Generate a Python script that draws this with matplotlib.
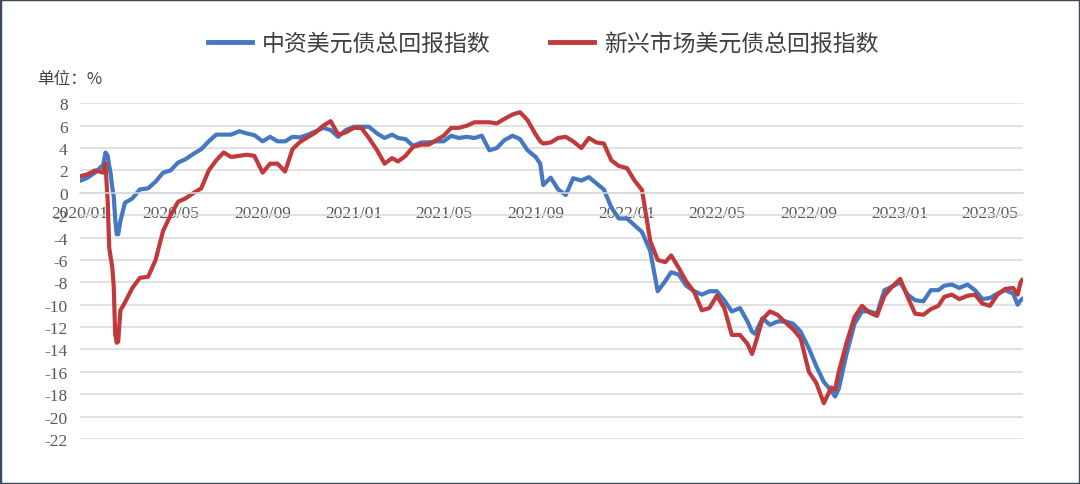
import matplotlib
matplotlib.use("Agg")
import matplotlib.pyplot as plt
import matplotlib.dates as mdates
import pandas as pd
from matplotlib.patches import Rectangle

plt.rcParams["axes.unicode_minus"] = False

CJK = ["Noto Sans CJK SC", "DejaVu Sans"]
SERIF = ["Liberation Serif", "DejaVu Serif"]

# sampled roughly every 10 days, extra points around the sharp moves
dates = [
    "2020-01-02", "2020-01-11", "2020-01-21",
    "2020-02-01", "2020-02-04", "2020-02-07", "2020-02-09", "2020-02-11", "2020-02-13",
    "2020-02-15", "2020-02-17", "2020-02-19", "2020-02-21", "2020-02-24",
    "2020-03-01", "2020-03-11", "2020-03-21", "2020-04-01", "2020-04-11", "2020-04-21",
    "2020-05-01", "2020-05-11", "2020-05-21", "2020-06-01", "2020-06-11", "2020-06-21",
    "2020-07-01", "2020-07-11", "2020-07-21", "2020-08-01", "2020-08-11", "2020-08-21",
    "2020-09-01", "2020-09-11", "2020-09-21", "2020-10-01", "2020-10-11", "2020-10-21",
    "2020-11-01", "2020-11-11", "2020-11-21", "2020-12-01", "2020-12-11", "2020-12-21",
    "2021-01-01", "2021-01-11", "2021-01-21", "2021-02-01", "2021-02-11", "2021-02-21",
    "2021-03-01", "2021-03-11", "2021-03-21", "2021-04-01", "2021-04-11", "2021-04-21",
    "2021-05-01", "2021-05-11", "2021-05-21", "2021-06-01", "2021-06-11", "2021-06-21",
    "2021-07-01", "2021-07-11", "2021-07-21", "2021-08-01", "2021-08-11", "2021-08-21",
    "2021-09-01", "2021-09-07", "2021-09-11", "2021-09-21",
    "2021-10-01", "2021-10-11", "2021-10-21", "2021-11-01", "2021-11-11", "2021-11-21",
    "2021-12-01", "2021-12-11", "2021-12-21",
    "2022-01-01", "2022-01-11", "2022-01-21", "2022-02-01", "2022-02-11", "2022-02-21",
    "2022-03-01", "2022-03-11", "2022-03-21", "2022-04-01", "2022-04-11", "2022-04-21",
    "2022-05-01", "2022-05-11", "2022-05-21", "2022-06-01", "2022-06-11", "2022-06-17",
    "2022-06-21", "2022-07-01", "2022-07-11", "2022-07-21", "2022-08-01", "2022-08-11",
    "2022-08-21", "2022-09-01", "2022-09-11", "2022-09-21",
    "2022-10-01", "2022-10-06", "2022-10-11", "2022-10-21",
    "2022-11-01", "2022-11-11", "2022-11-21", "2022-12-01", "2022-12-11", "2022-12-21",
    "2023-01-01", "2023-01-11", "2023-01-21", "2023-02-01", "2023-02-11", "2023-02-21",
    "2023-03-01", "2023-03-11", "2023-03-21", "2023-04-01", "2023-04-11", "2023-04-21",
    "2023-05-01", "2023-05-11", "2023-05-21", "2023-06-01", "2023-06-07", "2023-06-11",
    "2023-06-13",
]

cn_usd = [
    1.1, 1.35, 1.8,
    2.5, 3.6, 3.3, 2.4, 1.7, 0.5, -0.3, -2.3, -3.7, -3.7, -2.5,
    -0.9, -0.5, 0.3, 0.4, 1.0, 1.8,
    2.0, 2.7, 3.0, 3.5, 3.9, 4.6,
    5.2, 5.2, 5.2, 5.5, 5.3, 5.15,
    4.6, 5.0, 4.6, 4.6, 5.0, 4.95,
    5.2, 5.5, 5.8, 5.6, 5.0, 5.6,
    5.9, 5.9, 5.9, 5.3, 4.9, 5.2,
    4.9, 4.8, 4.2, 4.5, 4.5, 4.6,
    4.6, 5.1, 4.9, 5.0, 4.9, 5.1,
    3.8, 4.0, 4.7, 5.1, 4.8, 3.8,
    3.2, 2.6, 0.7, 1.35,
    0.3, -0.2, 1.3, 1.1, 1.4, 0.85,
    0.3, -1.3, -2.3,
    -2.3, -2.9, -3.5, -5.2, -8.8, -7.9,
    -7.1, -7.3, -8.3, -8.8, -9.1, -8.8,
    -8.8, -9.6, -10.6, -10.3, -11.5, -12.4,
    -12.6, -11.2, -11.8, -11.5, -11.5, -11.7,
    -12.4, -13.9, -15.5, -16.9,
    -17.7, -18.2, -17.5, -14.5,
    -11.7, -10.6, -10.6, -10.8, -8.7, -8.4,
    -8.0, -9.1, -9.6, -9.7, -8.7, -8.7,
    -8.3, -8.2, -8.5, -8.2, -8.7, -9.5,
    -9.4, -9.0, -8.7, -9.0, -10.0, -9.6,
    -9.5,
]

em_usd = [
    1.5, 1.65, 2.0,
    1.8, 2.6, -0.8, -4.9, -5.8, -6.6, -8.3, -12.6, -13.4, -13.3, -10.5,
    -9.8, -8.5, -7.6, -7.5, -6.0, -3.4,
    -2.0, -0.8, -0.5, 0.0, 0.4, 2.0,
    2.9, 3.6, 3.2, 3.3, 3.4, 3.3,
    1.8, 2.6, 2.6, 1.9, 3.9, 4.55,
    5.0, 5.4, 6.0, 6.4, 5.2, 5.4,
    5.8, 5.8, 4.9, 3.8, 2.6, 3.1,
    2.8, 3.3, 4.1, 4.3, 4.3, 4.7,
    5.1, 5.8, 5.8, 6.0, 6.3, 6.3,
    6.3, 6.2, 6.6, 7.0, 7.2, 6.5,
    5.2, 4.6, 4.4, 4.5,
    4.9, 5.0, 4.6, 4.0, 4.9, 4.5,
    4.4, 2.9, 2.4,
    2.2, 1.1, 0.25, -4.3, -6.0, -6.2,
    -5.6, -6.7, -7.9, -8.9, -10.5, -10.3,
    -9.2, -10.3, -12.7, -12.7, -13.5, -14.4,
    -13.6, -11.3, -10.6, -10.9, -11.6, -12.2,
    -13.0, -16.0, -17.0, -18.8,
    -17.4, -17.6, -16.0, -13.5,
    -11.1, -10.1, -10.7, -11.0, -9.2, -8.4,
    -7.7, -9.3, -10.8, -10.9, -10.4, -10.1,
    -9.3, -9.1, -9.5, -9.2, -9.1, -9.9,
    -10.1, -9.1, -8.6, -8.5, -9.1, -8.0,
    -7.8,
]

series_names = ["中资美元债总回报指数", "新兴市场美元债总回报指数"]
series_colors = ["#4577C2", "#C0393B"]
y_ticks = list(range(-22, 9, 2))

x = pd.to_datetime(dates)

fig = plt.figure(figsize=(10.8, 4.85), dpi=100)
ax = fig.add_axes([0.0741, 0.0928, 0.8730, 0.6922])

for vals, name, col in zip([cn_usd, em_usd], series_names, series_colors):
    ax.plot(x, vals, color=col, lw=3.0, label=name, solid_joinstyle="round")

ax.set_ylim(-22, 8)
ax.set_yticks(y_ticks)
ax.set_xlim(pd.Timestamp("2020-01-01"), pd.Timestamp("2023-06-14"))
ax.xaxis.set_major_locator(mdates.MonthLocator(bymonth=[1, 5, 9]))
ax.xaxis.set_major_formatter(mdates.DateFormatter("%Y/%m"))

ax.set_axisbelow(True)
ax.grid(axis="y", color="#D9D9D9", lw=1.1)
for s in ["left", "right", "top"]:
    ax.spines[s].set_visible(False)
ax.spines["bottom"].set_position(("data", 0))
ax.spines["bottom"].set_color("#D9D9D9")
ax.spines["bottom"].set_linewidth(1.1)

ax.tick_params(axis="both", length=0, labelsize=12.5, labelcolor="#595959")
ax.tick_params(axis="x", pad=9)
ax.tick_params(axis="y", pad=9)
for lab in ax.get_xticklabels() + ax.get_yticklabels():
    lab.set_family(SERIF)

fig.text(0.034, 0.837, "单位：%", family=CJK, fontsize=12, color="#404040",
         ha="left", va="center")

leg = fig.legend(loc="center", bbox_to_anchor=(0.503, 0.909), ncol=2, frameon=False,
                 prop={"family": CJK, "size": 16.5}, handlelength=1.9,
                 handletextpad=0.45, columnspacing=2.6)
for h in leg.get_lines():
    h.set_linewidth(3.5)
for t in leg.get_texts():
    t.set_color("#404040")

fig.patches.append(Rectangle((0, 0), 1, 1, transform=fig.transFigure, fill=False,
                             edgecolor="#3C4A5C", lw=2.5))

fig.savefig("out.png", dpi=100)
